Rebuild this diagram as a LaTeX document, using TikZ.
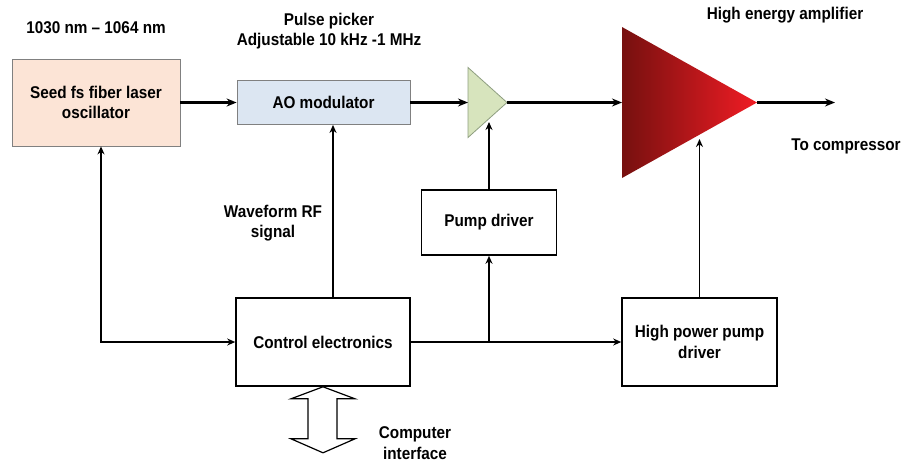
\documentclass[tikz,border=0pt]{standalone}
\usepackage{fontspec}
\setmainfont{Liberation Sans}[FakeStretch=0.9]
\usetikzlibrary{arrows.meta}

\definecolor{seedfill}{HTML}{FCE4D6}
\definecolor{aofill}{HTML}{DCE6F2}
\definecolor{prefill}{HTML}{D7E4BD}
\definecolor{preline}{HTML}{8E9E80}
\definecolor{ampdark}{HTML}{76100F}
\definecolor{ampbright}{HTML}{F01C24}
\newcommand{\lblfont}{\fontsize{17}{20.5}\selectfont\bfseries}

\begin{document}
\begin{tikzpicture}[x=1pt, y=-1pt, >={Stealth[length=8pt, width=7pt]},
    box/.style={draw, line width=1.6pt, align=center, font=\lblfont, inner sep=0pt},
    beam/.style={line width=2.4pt, -{Stealth[length=10pt, width=8pt]}},
    sig/.style={line width=1.5pt},
    lbl/.style={align=center, font=\lblfont}]
    \useasboundingbox (0,0) rectangle (902,461);

    \node[box, draw=gray, line width=0.8pt, fill=seedfill, minimum width=168, minimum height=87] (seed) at (96,102.5) {Seed fs fiber laser\\oscillator};
    \node[box, draw=gray, line width=0.8pt, fill=aofill, minimum width=173, minimum height=44] (ao) at (323.5,102.5) {AO modulator};
    \node[box, minimum width=174, minimum height=88] (ctrl) at (323,342) {Control electronics};
    \node[box, minimum width=135, minimum height=65] (pump) at (489,222.5) {Pump driver};
    \node[box, minimum width=155, minimum height=88] (hpp) at (699.5,342) {High power pump\\driver};

    % preamplifier and power amplifier
    \coordinate (pre-in) at (468,102.5);
    \coordinate (pre-out) at (507,102.5);
    \coordinate (pre-pump) at (489,122);
    \filldraw[fill=prefill, draw=preline, line width=0.8pt] (468,67.5) -- (pre-out) -- (468,137.5) -- cycle;
    \coordinate (amp-in) at (622,102.5);
    \coordinate (amp-out) at (757,102.5);
    \coordinate (amp-pump) at (699.5,139);
    \coordinate (out) at (835,102.5);
    \shade[left color=ampdark, right color=ampbright] (622,27) -- (amp-out) -- (622,178) -- cycle;

    \draw[beam] (seed.east) -- (ao.west);
    \draw[beam] (ao.east) -- (pre-in);
    \draw[beam] (pre-out) -- (amp-in);
    \draw[beam] (amp-out) -- (out);

    \draw[sig, ->] ([xshift=10pt]ctrl.north) -- ([xshift=10pt]ctrl.north |- ao.south);
    \draw[sig, <->] ([xshift=5pt]seed.south) |- (ctrl.west);
    \draw[sig, ->] (ctrl.east) -- (hpp.west);
    \draw[sig, ->] (ctrl.east -| pump.south) -- (pump.south);
    \draw[sig, ->] (pump.north) -- (pre-pump);
    \draw[sig, ->] (hpp.north) -- (amp-pump);

    % computer interface
    \draw[line width=1.2pt, fill=white] (ctrl.south) -- ++(32,12) -- ++(-18,0) -- ++(0,40) -- ++(18,0) -- ++(-32,14)
        -- ++(-32,-14) -- ++(17,0) -- ++(0,-40) -- ++(-17,0) -- cycle;

    \node[lbl] (wl) at (96,28) {1030 nm – 1064 nm};
    \node[lbl] (pp) at (329,31) {Pulse picker\\Adjustable 10 kHz -1 MHz};
    \node[lbl] (hea) at (785,15) {High energy amplifier};
    \node[lbl] (tc) at (846,146) {To compressor};
    \node[lbl] (rf) at (273,223) {Waveform RF\\signal};
    \node[lbl] (ci) at (415,443) {Computer\\interface};
\end{tikzpicture}
\end{document}
